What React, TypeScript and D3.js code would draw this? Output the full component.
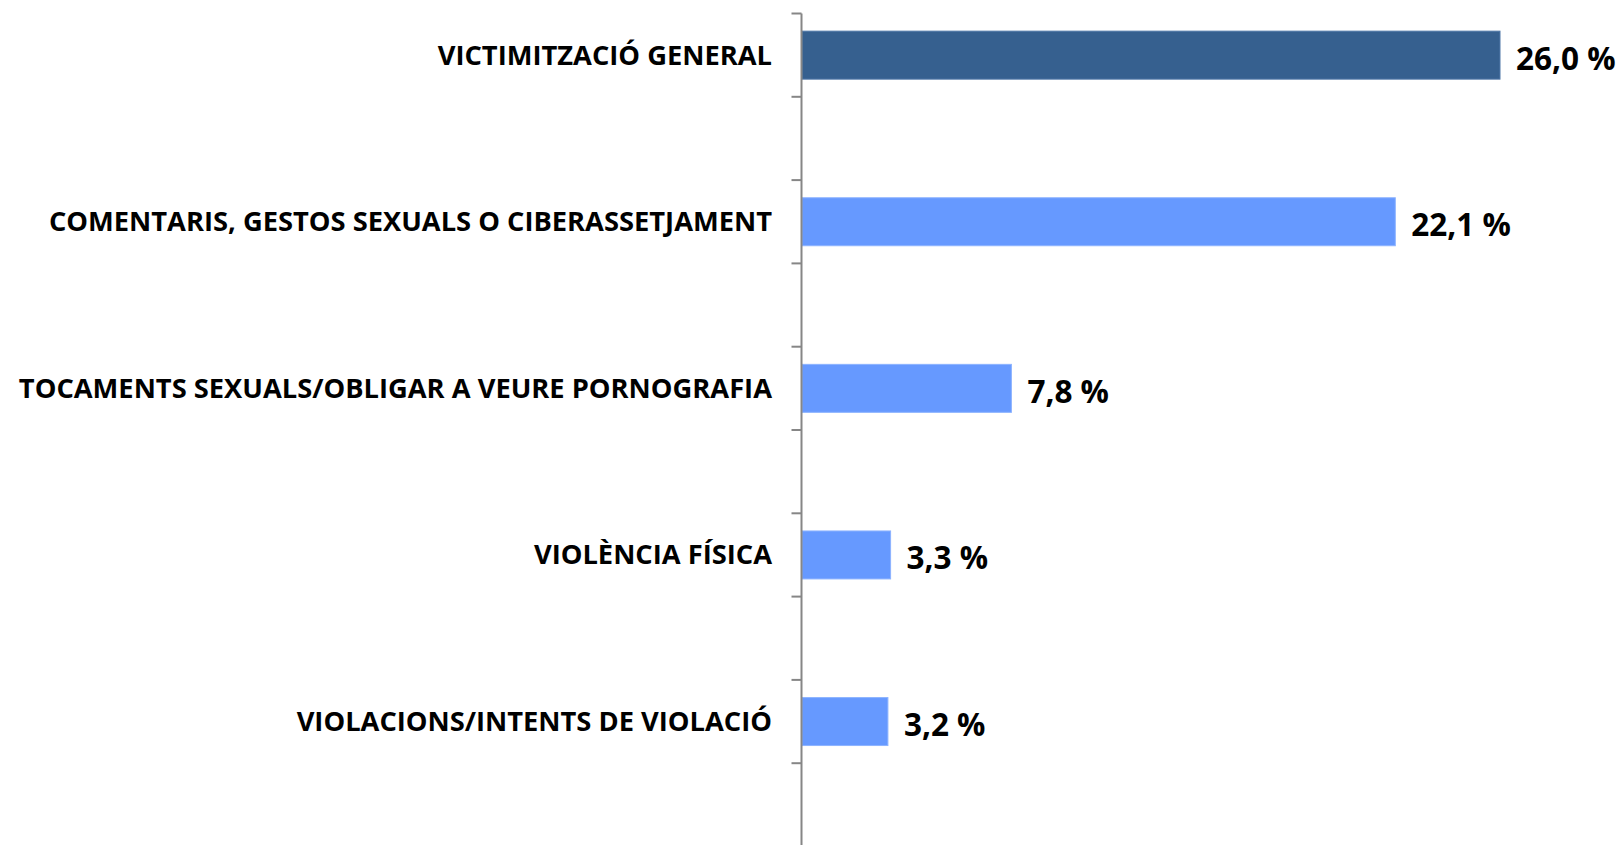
import React from "react";
import * as d3 from "d3";

const categories = [
  "VICTIMITZACIÓ GENERAL",
  "COMENTARIS, GESTOS SEXUALS O CIBERASSETJAMENT",
  "TOCAMENTS SEXUALS/OBLIGAR A VEURE PORNOGRAFIA",
  "VIOLÈNCIA FÍSICA",
  "VIOLACIONS/INTENTS DE VIOLACIÓ",
];
const values = [26.0, 22.1, 7.8, 3.3, 3.2];
const valueLabels = ["26,0 %", "22,1 %", "7,8 %", "3,3 %", "3,2 %"];

const W = 1623;
const H = 845;
const AXIS_X = 801.5;
const TOP = 13.5;
const BOTTOM = 846.5;

export default function App() {
  const x = d3.scaleLinear().domain([0, 26]).range([802, 1500]);
  const y = d3.scaleBand<string>().domain(categories).range([TOP, BOTTOM]).padding(0);
  const bw = y.bandwidth();
  const barH = (bw / 2) * 0.576;
  const ticks = d3.range(0, categories.length * 2 + 1).map((i) => TOP + (i * bw) / 2);
  const font = "'Open Sans', Lato, sans-serif";

  return (
    <svg
      width={W}
      height={H}
      style={{ position: "absolute", left: 0, top: 0, background: "#fff" }}
    >
      {categories.map((c, i) => {
        const cy = (y(c) as number) + bw / 4;
        return (
          <g key={c}>
            <rect
              x={x(0)}
              y={cy - barH / 2}
              width={x(values[i]) - x(0)}
              height={barH}
              fill={i === 0 ? "#36608F" : "#6699FF"}
              stroke={i === 0 ? "#5078a8" : "#8db3ff"}
              strokeWidth={1}
            />
            <text
              x={772}
              y={cy - 1}
              textAnchor="end"
              dominantBaseline="central"
              fontFamily={font}
              fontWeight={700}
              fontSize={27.3}
              fill="#000"
            >
              {c}
            </text>
            <text
              x={x(values[i]) + 16}
              y={cy + 2}
              dominantBaseline="central"
              fontFamily={font}
              fontWeight={700}
              fontSize={31.5}
              fill="#000"
            >
              {valueLabels[i]}
            </text>
          </g>
        );
      })}
      <line x1={AXIS_X} x2={AXIS_X} y1={TOP} y2={H} stroke="#868686" strokeWidth={2} />
      {ticks.map((t, i) => (
        <line key={i} x1={AXIS_X - 10} x2={AXIS_X} y1={t} y2={t} stroke="#868686" strokeWidth={2} />
      ))}
    </svg>
  );
}
